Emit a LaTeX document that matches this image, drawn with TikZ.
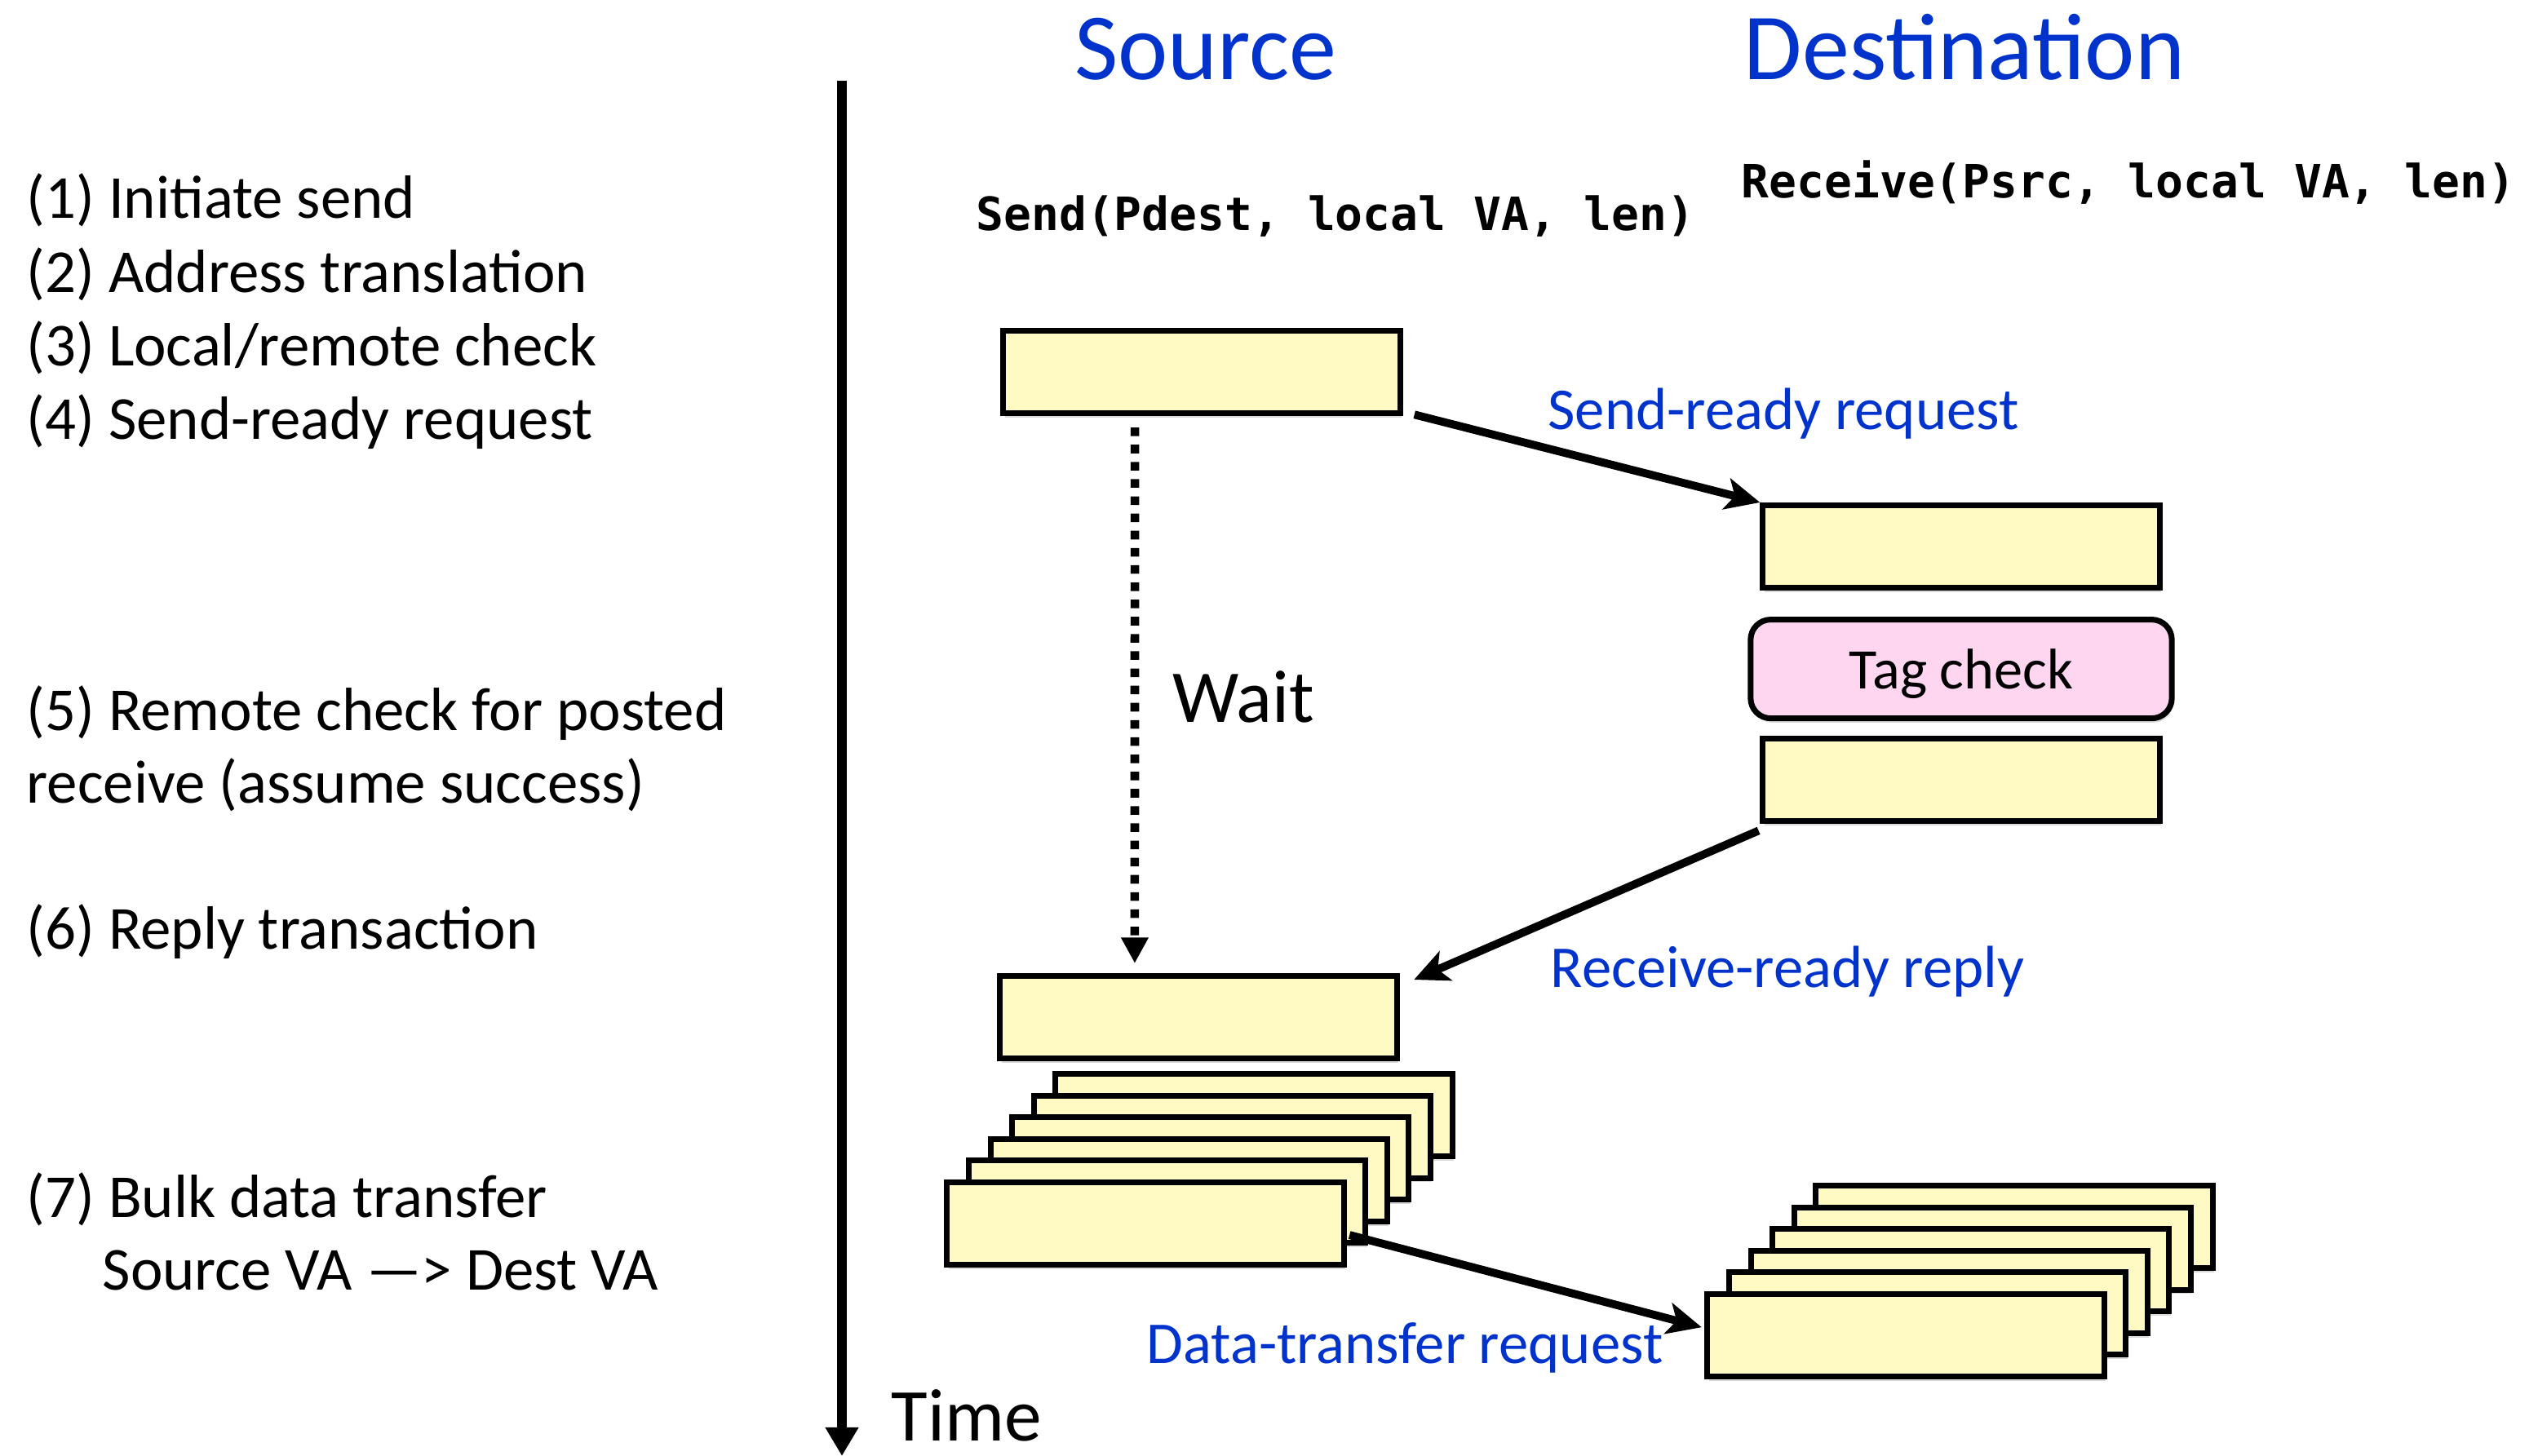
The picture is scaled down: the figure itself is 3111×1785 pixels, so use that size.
\documentclass[tikz,border=0pt]{standalone}
\usepackage{fontspec}
\setmainfont{Carlito}
\newfontfamily\codefont{DejaVu Sans Mono}
\usetikzlibrary{arrows.meta}
\usetikzlibrary{positioning,shadows}
\definecolor{bufyellow}{RGB}{255,249,196}
\definecolor{tagpink}{RGB}{255,214,240}
\definecolor{msgblue}{RGB}{0,51,204}
\tikzset{
	x=0.01cm, y=-0.01cm,
	buf/.style = {draw, line width=2pt, fill=bufyellow, minimum width=4.86cm, minimum height=1.01cm, inner sep=0pt,
		drop shadow={shadow xshift=0.5pt, shadow yshift=-1.5pt, opacity=0.3}},
	msg/.style = {line width=2.8pt, -{Stealth[length=12pt,width=11pt,inset=3pt]}},
	msglabel/.style = {anchor=base, inner sep=0pt, text=msgblue, font=\fontsize{20.7}{24}\selectfont},
	steptext/.style = {anchor=base west, inner sep=0pt, font=\fontsize{21.3}{25}\selectfont}
}

\begin{document}
\begin{tikzpicture}[title/.style={anchor=base, inner sep=0pt, text=msgblue, font=\fontsize{33}{38}\selectfont},
	call/.style={anchor=base, inner sep=0pt, font=\codefont\bfseries\fontsize{16}{19}\selectfont},
	big/.style={anchor=base, inner sep=0pt, font=\fontsize{26}{30}\selectfont},
	tagbox/.style={draw, line width=2pt, fill=tagpink, rounded corners=7pt, minimum width=5.16cm, minimum height=1.21cm,
		text depth=0pt, font=\fontsize{20}{24}\selectfont, drop shadow={shadow xshift=0.5pt, shadow yshift=-1.5pt, opacity=0.3}}]
	\useasboundingbox (0,0) rectangle (3111,1785);
	\foreach \i/\txt in {1/Initiate send, 2/Address translation, 3/Local\slash remote check, 4/Send-ready request}
		\node[steptext] (st\i) at (32,{268+90*(\i-1)}) {(\i) \txt};
	\node[steptext] (st5) at (32,895) {(5) Remote check for posted};
	\node[steptext] (st5b) at (32,984) {receive (assume success)};
	\node[steptext] (st6) at (32,1163) {(6) Reply transaction};
	\node[steptext] (st7) at (32,1492) {(7) Bulk data transfer};
	\node[steptext] (st7b) at (125,1581) {Source VA —> Dest VA};
	\coordinate (t0) at (1032,99);
	\coordinate (t1) at (1032,1785);
	\draw[line width=3.4pt, -{Triangle[length=10pt,width=11pt]}] (t0) -- (t1);
	\node[big] (time) at (1185,1766) {Time};
	\node[title] (src) at (1478,98) {Source};
	\node[title] (dst) at (2408,98) {Destination};
	\node[call] (send) at (1637,282) {Send(Pdest, local VA, len)};
	\node[call] (recv) at (2609,242) {Receive(Psrc, local VA, len)};
	\node[buf] (s1) at (1473,456) {};
	\node[buf] (d1) at (2404,670) {};
	\node[tagbox] (tag) [below=0.32cm of d1] {Tag check};
	\node[buf] (d2) [below=0.18cm of tag] {};
	\node[buf] (s2) at (1469,1247) {};
	\foreach \k in {5,4,...,0}
		\node[buf] (src\k) at ({1404+26.6*\k},{1500-26.6*\k}) {};
	\foreach \k in {5,4,...,0}
		\node[buf] (dst\k) at ({2336+26.6*\k},{1637-26.6*\k}) {};
	\draw[msg] ([shift={(4pt,0.5pt)}]s1.south east) -- (d1.north west);
	\draw[msg] ([shift={(-0.5pt,-2.3pt)}]d2.south west) -- ([shift={(5pt,-2.3pt)}]s2.north east);
	\draw[msg] ([shift={(1pt,-4pt)}]src0.east) -- ([shift={(-1pt,2.8pt)}]dst0.west);
	\draw[line width=3pt, dash pattern=on 3pt off 3pt, -{Triangle[length=9pt,width=9pt]}]
		([shift={(-23.3pt,-4pt)}]s1.south) -- ([shift={(-22.2pt,3.4pt)}]s2.north);
	\node[big] (wait) at (1524,885) {Wait};
	\node[msglabel] (lreq) at (2186,526) {Send-ready request};
	\node[msglabel] (lrep) at (2191,1210) {Receive-ready reply};
	\node[msglabel] (ldata) at (1722,1671) {Data-transfer request};
\end{tikzpicture}
\end{document}
